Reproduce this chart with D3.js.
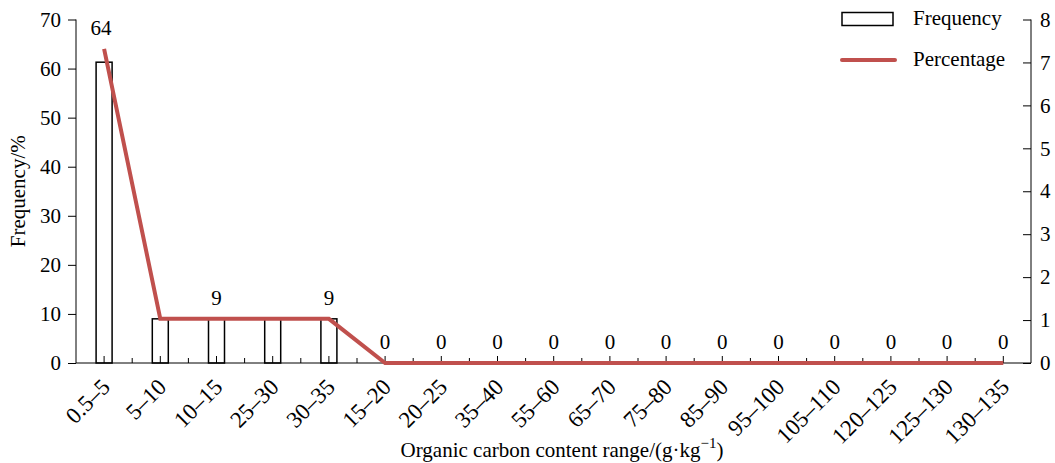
<!DOCTYPE html>
<html>
<head>
<meta charset="utf-8">
<script src="https://cdn.jsdelivr.net/npm/d3@7"></script>
<style>
  body { margin: 0; background: #fff; }
  svg, svg text { font-family: "Liberation Serif", "Times New Roman", serif; }
</style>
</head>
<body>
<div id="chart"></div>
<script>
(function(){
  'use strict';

  // categories on x axis (order as in the figure)
  var categories = ['0.5\u20135', '5\u201310', '10\u201315', '25\u201330', '30\u201335', '15\u201320', '20\u201325',
    '35\u201340', '55\u201360', '65\u201370', '75\u201380', '85\u201390', '95\u2013100', '105\u2013110',
    '120\u2013125', '125\u2013130', '130\u2013135'];
  // bar heights (frequency, left axis)
  var frequency = [61.3, 9, 9, 9, 9, 0, 0, 0, 0, 0, 0, 0, 0, 0, 0, 0, 0];
  // line values (read on left axis)
  var percentage = [64, 9, 9, 9, 9, 0, 0, 0, 0, 0, 0, 0, 0, 0, 0, 0, 0];
  // value labels shown above points (null = no label)
  var pointLabels = ['64', null, '9', null, '9', '0', '0', '0', '0', '0', '0', '0', '0', '0', '0', '0', '0'];
  var leftTicks = [0, 10, 20, 30, 40, 50, 60, 70];
  var rightTicks = [0, 1, 2, 3, 4, 5, 6, 7, 8];

  var width = 1055, height = 463;
  var x0 = 76, x1 = 1031, yTop = 19.5, yBot = 363;
  var red = '#c0504d';
  var serif = '"Liberation Serif", "Times New Roman", serif';

  var svg = d3.select('#chart').append('svg')
    .attr('width', width).attr('height', height)
    .attr('font-family', serif);

  var x = d3.scaleBand().domain(categories).range([x0, x0 + 17 * 56.2]).padding(0);
  var yL = d3.scaleLinear().domain([0, 70]).range([yBot, yTop]);
  var yR = d3.scaleLinear().domain([0, 8]).range([yBot, yTop]);
  var barW = 16;
  function cx(i) { return x(categories[i]) + x.bandwidth() / 2; }

  // bars
  svg.append('g').selectAll('rect').data(frequency).enter().append('rect')
    .attr('x', function (d, i) { return cx(i) - barW / 2; })
    .attr('y', function (d) { return yL(d); })
    .attr('width', barW)
    .attr('height', function (d) { return yBot - yL(d); })
    .attr('display', function (d) { return d > 0 ? null : 'none'; })
    .attr('fill', '#fff').attr('stroke', '#000').attr('stroke-width', 1.5);

  // left axis
  var gl = svg.append('g').attr('transform', 'translate(' + x0 + ',0)');
  gl.call(d3.axisLeft(yL).tickValues(d3.range(0, 71, 2)).tickSize(5).tickFormat(''));
  gl.call(d3.axisLeft(yL).tickValues(leftTicks).tickSize(8).tickPadding(7).tickFormat(d3.format('d')));
  gl.selectAll('.domain').attr('d', 'M0,' + yTop + 'V' + yBot);

  // right axis, ticks pointing inward
  var gr = svg.append('g').attr('transform', 'translate(' + x1 + ',0)');
  gr.call(d3.axisRight(yR).tickValues(rightTicks).tickSizeInner(-8).tickSizeOuter(0).tickPadding(9));
  gr.selectAll('.domain').attr('d', 'M0,' + yTop + 'V' + yBot);

  gl.attr('font-family', serif).attr('font-size', 21);
  gr.attr('font-family', serif).attr('font-size', 21);

  // bottom axis
  var gb = svg.append('g').attr('transform', 'translate(0,' + yBot + ')');
  gb.append('line').attr('x1', x0).attr('x2', x1).attr('stroke', '#000');
  gb.selectAll('line.major').data(categories).enter().append('line')
    .attr('x1', function (d, i) { return cx(i); })
    .attr('x2', function (d, i) { return cx(i); })
    .attr('y1', 0).attr('y2', -7).attr('stroke', '#000');
  gb.selectAll('line.minor').data(categories.slice(1)).enter().append('line')
    .attr('x1', function (d) { return x(d); })
    .attr('x2', function (d) { return x(d); })
    .attr('y1', 0).attr('y2', -5).attr('stroke', '#000');
  gb.selectAll('text').data(categories).enter().append('text')
    .attr('transform', function (d, i) {
      return 'translate(' + (cx(i) - 4) + ',14) rotate(-45)';
    })
    .attr('text-anchor', 'end').attr('dy', '0.7em')
    .attr('font-size', 23).text(function (d) { return d; });

  svg.selectAll('.tick text').attr('fill', '#000');
  svg.selectAll('.domain, .tick line').attr('stroke', '#000');

  // line
  var line = d3.line()
    .x(function (d, i) { return cx(i); })
    .y(function (d) { return yL(d); });
  svg.append('path').datum(percentage)
    .attr('d', line).attr('fill', 'none')
    .attr('stroke', red).attr('stroke-width', 4);

  // point labels
  svg.append('g').selectAll('text').data(percentage).enter().append('text')
    .attr('x', function (d, i) { return cx(i) - (i === 0 ? 3 : 0); })
    .attr('y', function (d) { return yL(d) - 14; })
    .attr('text-anchor', 'middle').attr('font-size', 21)
    .text(function (d, i) { return pointLabels[i]; });

  // axis titles
  svg.append('text')
    .attr('transform', 'translate(25,' + ((yTop + yBot) / 2) + ') rotate(-90)')
    .attr('text-anchor', 'middle').attr('font-size', 21).text('Frequency/%');
  var xt = svg.append('text').attr('x', 562).attr('y', 457)
    .attr('text-anchor', 'middle').attr('font-size', 21);
  xt.append('tspan').text('Organic carbon content range/(g\u00b7kg');
  xt.append('tspan').attr('dy', -9).attr('font-size', 15).text('\u22121');
  xt.append('tspan').attr('dy', 9).text(')');

  // legend
  var lg = svg.append('g');
  lg.append('rect').attr('x', 842).attr('y', 12.5).attr('width', 51).attr('height', 13)
    .attr('fill', '#fff').attr('stroke', '#000').attr('stroke-width', 1.5);
  lg.append('text').attr('x', 913).attr('y', 25).attr('font-size', 21).text('Frequency');
  lg.append('line').attr('x1', 842).attr('x2', 895).attr('y1', 60).attr('y2', 60)
    .attr('stroke', red).attr('stroke-width', 4).attr('stroke-linecap', 'round');
  lg.append('text').attr('x', 913).attr('y', 66).attr('font-size', 21).text('Percentage');
})();
</script>
</body>
</html>
